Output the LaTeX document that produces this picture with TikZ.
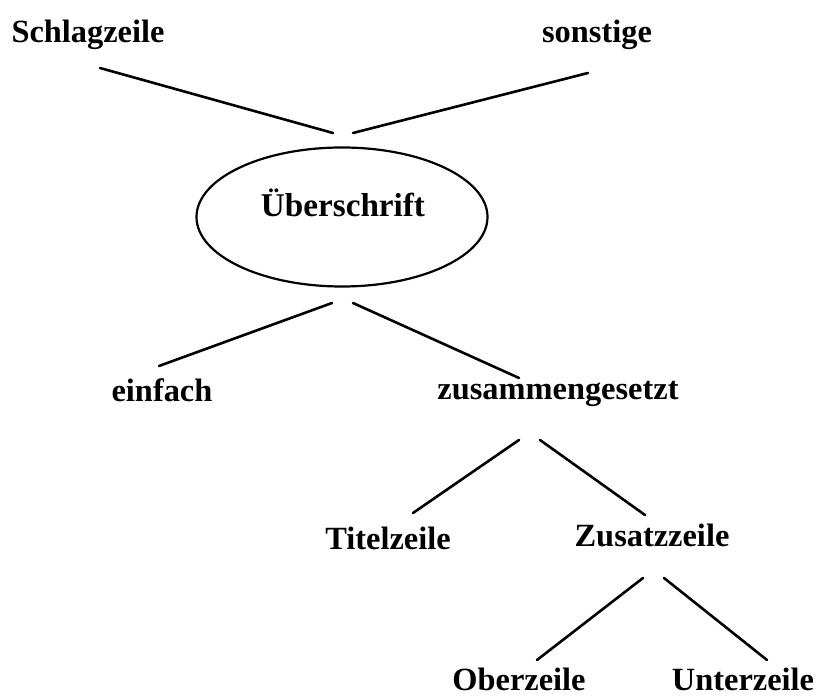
\documentclass[tikz,border=0pt]{standalone}
\usepackage{fontspec}
\setmainfont{Liberation Serif}
\usetikzlibrary{shapes.geometric}
\begin{document}
\begin{tikzpicture}[x=0.5pt,y=-0.5pt,
  lbl/.style={anchor=base,inner sep=0pt,font=\fontsize{16.2}{19}\selectfont\bfseries},
  big/.style={anchor=base,inner sep=0pt,font=\fontsize{16.6}{20}\selectfont\bfseries},
  edge/.style={line width=1.3pt,line cap=round}]
\useasboundingbox (0,0) rectangle (821,699);
% labels
\node[lbl] (schlag) at (88,43) {Schlagzeile};
\node[lbl] (sonst) at (597,43) {sonstige};
\node[draw,ellipse,line width=1.1pt,minimum width=145.5pt,minimum height=69.5pt,inner sep=0pt] (ell) at (342,217) {};
\node[big] (ueber) at (343,217) {Überschrift};
\node[lbl] (einf) at (162,402) {einfach};
\node[lbl] (zus) at (558,400) {zusammengesetzt};
\node[lbl] (titel) at (388,550) {Titelzeile};
\node[lbl] (zusatz) at (652,547) {Zusatzzeile};
\node[lbl] (ober) at (519,691) {Oberzeile};
\node[lbl] (unter) at (743,691) {Unterzeile};
% connector end points
\coordinate (a1) at (100,68);  \coordinate (a2) at (333,133);
\coordinate (b1) at (588,73);  \coordinate (b2) at (353,133);
\coordinate (c1) at (332,303); \coordinate (c2) at (159,366);
\coordinate (d1) at (353,303); \coordinate (d2) at (519,378);
\coordinate (e1) at (519,440); \coordinate (e2) at (413,513);
\coordinate (f1) at (540,440); \coordinate (f2) at (645,515);
\coordinate (g1) at (643,578); \coordinate (g2) at (537,660);
\coordinate (h1) at (664,578); \coordinate (h2) at (767,660);
% connectors
\draw[edge] (a1) -- (a2);
\draw[edge] (b1) -- (b2);
\draw[edge] (c1) -- (c2);
\draw[edge] (d1) -- (d2);
\draw[edge] (e1) -- (e2);
\draw[edge] (f1) -- (f2);
\draw[edge] (g1) -- (g2);
\draw[edge] (h1) -- (h2);
\end{tikzpicture}
\end{document}
